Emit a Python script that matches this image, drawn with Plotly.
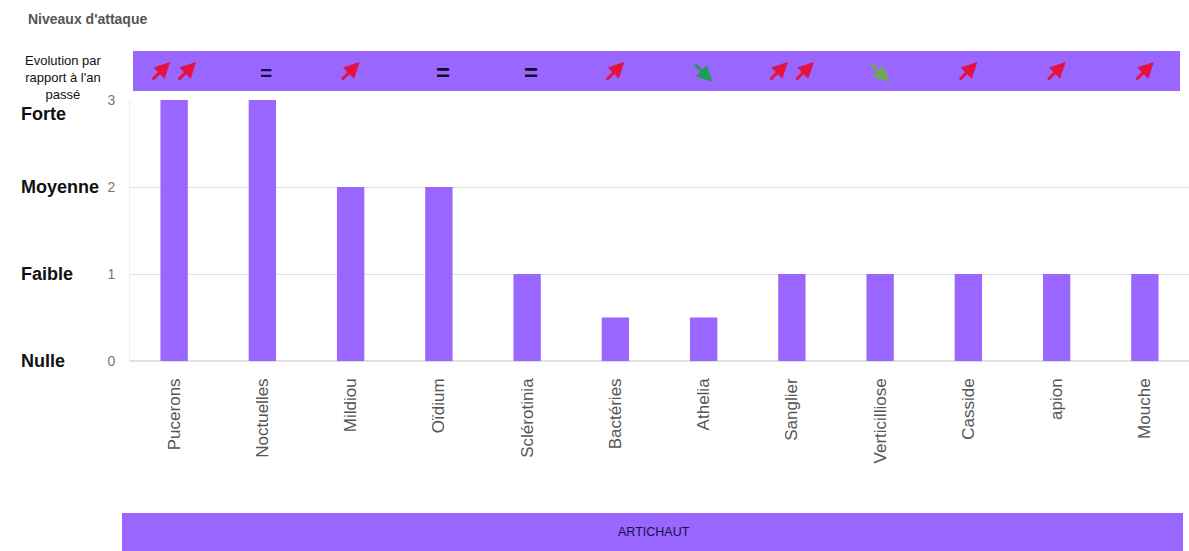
import plotly.graph_objects as go

categories = ["Pucerons", "Noctuelles", "Mildiou", "Oïdium", "Sclérotinia", "Bactéries",
              "Athelia", "Sanglier", "Verticilliose", "Casside", "apion", "Mouche"]
levels = [3, 3, 2, 2, 1, 0.5, 0.5, 1, 1, 1, 1, 1]
# evolution vs last year: "up2", "up", "eq", "eq_bold", "down"
evolution = ["up2", "eq", "up", "eq_bold", "eq_bold", "up", "down", "up2", "down", "up", "up", "up"]
evo_colors = ["#e3123f", "#1a1050", "#e3123f", "#0d0d2a", "#0d0d2a", "#e3123f",
              "#1f9e55", "#e3123f", "#72a552", "#e3123f", "#e3123f", "#e3123f"]
level_names = ["Nulle", "Faible", "Moyenne", "Forte"]
level_values = [0, 1, 2, 3]

PURPLE = "#9966ff"
W, H = 1189, 551
ML, MR, MT, MB = 130, 0, 100, 190
PW, PH = W - ML - MR, H - MT - MB

def py(ypix):
    return (H - MB - ypix) / PH

def px(xpix):
    return (xpix - ML) / PW

fig = go.Figure()
fig.add_trace(go.Bar(x=categories, y=levels, marker=dict(color=PURPLE, line=dict(width=0)),
                     width=0.31, hoverinfo="x+y"))

shapes = [
    dict(type="rect", xref="paper", yref="paper", x0=px(133), x1=px(1180), y0=py(91), y1=py(51),
         fillcolor=PURPLE, line=dict(width=0), layer="below"),
    dict(type="rect", xref="paper", yref="paper", x0=px(122), x1=px(1183), y0=py(551), y1=py(513),
         fillcolor=PURPLE, line=dict(width=0), layer="below"),
]

annotations = []
annotations.append(dict(text="<b>Niveaux d'attaque</b>", xref="paper", yref="paper", x=px(26), y=py(19),
                        xanchor="left", yanchor="middle", showarrow=False,
                        font=dict(family="Arial, Liberation Sans", size=14, color="#555555")))
annotations.append(dict(text="Evolution par<br>rapport à l'an<br>passé", xref="paper", yref="paper",
                        x=px(63), y=py(78), xanchor="center", yanchor="middle", align="center",
                        showarrow=False,
                        font=dict(family="Arial, Liberation Sans", size=13, color="#111111")))
annotations.append(dict(text="ARTICHAUT", xref="paper", yref="paper", x=px(654), y=py(532),
                        xanchor="center", yanchor="middle", showarrow=False,
                        font=dict(family="Liberation Sans Narrow, Arial", size=12.5, color="#1a1040")))

for name, val in zip(level_names, level_values):
    annotations.append(dict(text="<b>%s</b>" % name, xref="paper", yref="y", x=px(19), y=val,
                            yshift=-14 if val == 3 else 0, xanchor="left", yanchor="middle",
                            showarrow=False,
                            font=dict(family="Arial, Liberation Sans", size=18, color="#111111")))

ARROW = 19
for cat, evo, col in zip(categories, evolution, evo_colors):
    if evo in ("eq", "eq_bold"):
        annotations.append(dict(text="<b>=</b>", xref="x", yref="paper",
                                x=cat, y=py(72), xshift=4, xanchor="center", yanchor="middle",
                                showarrow=False,
                                font=dict(family="Arial, Liberation Sans", size=24 if evo == "eq_bold" else 21,
                                          color=col)))
        continue
    shifts = [-13, 13] if evo == "up2" else [0]
    for s in shifts:
        if evo.startswith("up"):
            annotations.append(dict(text="", xref="x", yref="paper", x=cat, y=py(62),
                                    xshift=s + 9, showarrow=True, ax=-ARROW, ay=ARROW,
                                    arrowhead=2, arrowsize=1.05, arrowwidth=3, arrowcolor=col,
                                    standoff=0, startstandoff=0))
        else:
            annotations.append(dict(text="", xref="x", yref="paper", x=cat, y=py(82),
                                    xshift=s + 9, showarrow=True, ax=-ARROW, ay=-ARROW,
                                    arrowhead=2, arrowsize=1.05, arrowwidth=3, arrowcolor=col,
                                    standoff=0, startstandoff=0))

fig.update_layout(
    width=W, height=H,
    margin=dict(l=ML, r=MR, t=MT, b=MB, pad=0),
    paper_bgcolor="white", plot_bgcolor="white",
    showlegend=False, bargap=0.69,
    shapes=shapes, annotations=annotations,
    font=dict(family="Arial, Liberation Sans"),
    xaxis=dict(tickangle=-90, tickfont=dict(size=17, color="#555555"), showgrid=False,
               showline=False, zeroline=False, ticks="", ticklabelstandoff=13, fixedrange=True),
    yaxis=dict(range=[0, 3], tickvals=level_values, tickfont=dict(size=14, color="#777777"),
               showgrid=True, gridcolor="#e0e0e0", gridwidth=1, zeroline=True, zerolinecolor="#e0e0e0",
               showline=True, linecolor="#eeeeee", ticks="", ticklabelstandoff=11, fixedrange=True),
)

fig.write_html("out.html")
